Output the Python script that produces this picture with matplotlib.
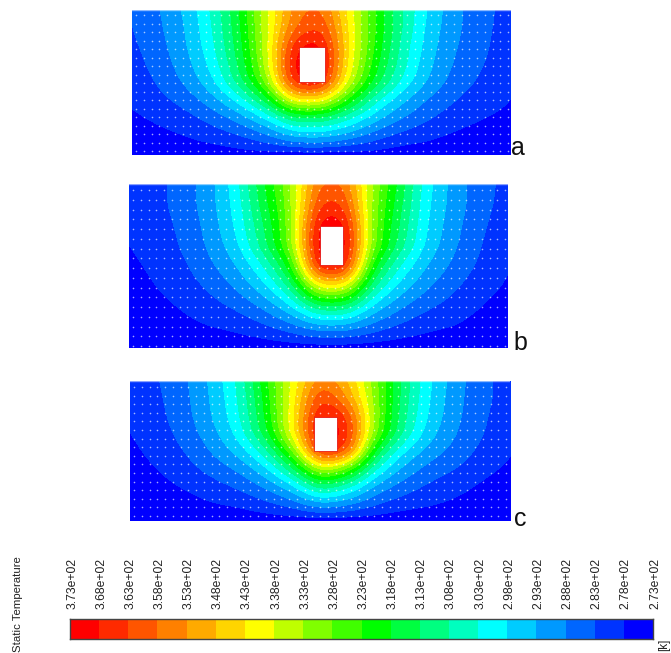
import numpy as np
import matplotlib
matplotlib.use("Agg")
import matplotlib.pyplot as plt
from matplotlib.colors import ListedColormap, BoundaryNorm
from matplotlib.patches import Rectangle
from matplotlib.transforms import ScaledTranslation

W, H = 671, 653
plt.rcParams['font.family'] = ['Liberation Sans', 'DejaVu Sans']

# Temperature readings (K), rows top to bottom, columns left to right
temp_a = [
    [283, 287.5, 294, 304, 318, 337, 356, 360, 342, 323, 308, 297, 289, 284.5, 281],
    [283, 287, 293, 303, 317, 337, 358, 364, 343, 323, 308, 296, 289, 284, 281],
    [282, 286, 292.5, 302, 316, 336, 368, 372, 343, 322, 306, 295, 288, 284, 280],
    [281, 285, 291, 300, 314, 335, 372, 374, 342, 320, 305, 294, 287, 283, 280],
    [280, 283.5, 289, 297, 311, 330, 370, 372, 338, 316, 302, 292, 285.5, 282, 279],
    [279, 281.5, 285, 291, 300, 315, 343, 343, 322, 304, 294, 287, 283, 280, 278],
    [277, 279, 281, 285, 290, 298, 311, 311, 304, 295, 288, 283.5, 280, 278, 277],
    [275, 276.5, 278, 280, 282.5, 287, 294, 295, 291, 285, 281, 279, 277, 276, 275],
    [273, 274, 275, 275, 276, 276, 276, 276, 276, 276, 275, 275, 274, 274, 273],
]
temp_b = [
    [280.5, 281.5, 285, 291, 301, 318, 332, 359, 359, 332, 317, 300, 291, 285, 281.5],
    [280, 281.5, 285, 291, 300, 316, 331, 364, 364, 331, 315, 299, 291, 285, 281],
    [279, 281, 284, 290, 299, 313, 330, 372, 372, 330, 313, 298, 290, 284, 280],
    [278, 280, 283.5, 289, 297, 311, 330, 374, 374, 330, 311, 297, 289, 283, 279.5],
    [277, 279, 282, 287, 293, 303, 320, 372, 372, 320, 303, 293, 287, 282, 278.5],
    [276, 278, 280.5, 284, 289, 296.5, 309, 342, 342, 309, 296.5, 289, 284, 280, 277.5],
    [275, 276.5, 278.5, 281, 284, 289, 297, 312, 312, 297, 289, 284, 281, 278, 276],
    [274, 275, 276.5, 278, 279, 282, 286, 291, 291, 286, 282, 279, 278, 276, 275],
    [273, 273.5, 274, 274.5, 275, 275, 275.5, 276, 276, 275.5, 275, 275, 274.5, 274, 273],
]
temp_c = [
    [280, 282.5, 287, 294, 304, 322, 340, 358, 349, 330, 312, 298.5, 290, 284, 281],
    [279.5, 282, 286.5, 293.5, 303, 320, 341, 365, 353, 331, 311, 298, 289.5, 284, 281],
    [279, 281.5, 286, 293, 302, 319, 342, 372, 365, 331, 310, 297, 289, 283.5, 280],
    [278, 280.5, 285, 291, 300, 316, 342, 374, 368, 330, 308, 295, 288, 283, 279.5],
    [277, 279.5, 283, 288.5, 295, 306, 328, 372, 364, 316, 298.5, 291, 286, 281.5, 278.5],
    [276, 278, 281, 285, 289, 297, 312, 338, 328, 303, 292, 286, 283, 279.5, 277],
    [275, 276.5, 278.5, 281, 284, 289, 297, 313, 305, 292, 286, 282, 280, 277, 275.5],
    [274, 275, 276, 278, 279, 282, 286, 293, 290, 284, 280.5, 279, 277, 275, 274],
    [273, 273.5, 274, 274, 274.5, 275, 275, 275.5, 275, 275, 274.5, 274, 274, 273.5, 273],
]
panel_names = ['a', 'b', 'c']
tick_labels = ['3.73e+02', '3.68e+02', '3.63e+02', '3.58e+02', '3.53e+02', '3.48e+02', '3.43e+02',
               '3.38e+02', '3.33e+02', '3.28e+02', '3.23e+02', '3.18e+02', '3.13e+02', '3.08e+02',
               '3.03e+02', '2.98e+02', '2.93e+02', '2.88e+02', '2.83e+02', '2.78e+02', '2.73e+02']
tick_values = [float(s) for s in tick_labels]
band_colors = ['#0000ff', '#0033ff', '#0066ff', '#0099ff', '#00ccff', '#00ffff', '#00ffbf', '#00ff80',
               '#00ff40', '#00ff00', '#40ff00', '#80ff00', '#bfff00', '#ffff00', '#ffd500', '#ffaa00',
               '#ff8000', '#ff5500', '#ff2a00', '#ff0000']

# layout in pixels: (left, top, right, bottom)
boxes = [(132, 10, 511, 155), (129, 184, 508, 348), (130, 381, 510, 521)]
holes = [(299, 47, 325, 82), (320, 226, 343, 265), (314, 417, 337, 451)]
dot_first_row = [15, 190, 387]
dot_row_step = [8.5, 9.75, 8.6]
dot_col_step = 7.75
name_pos = [(511, 155), (513, 350), (514, 526)]

levels = sorted(tick_values)
cmap = ListedColormap(band_colors)
norm = BoundaryNorm(levels, cmap.N, clip=True)

fig = plt.figure(figsize=(W / 100, H / 100), dpi=100, facecolor='white')


def px_axes(l, t, r, b):
    return fig.add_axes([l / W, 1 - b / H, (r - l) / W, (b - t) / H])


def smooth_axis(a, sigma, axis):
    # gaussian blur along one axis, with odd reflection so edge slopes survive
    rad = int(3 * sigma) + 1
    kern = np.exp(-0.5 * (np.arange(-rad, rad + 1) / sigma) ** 2)
    kern /= kern.sum()
    def one(v):
        p = np.pad(v, rad, mode='reflect', reflect_type='odd')
        return np.convolve(p, kern, mode='valid')
    return np.apply_along_axis(one, axis, a)


def fine_field(temp, l, t, r, b):
    # resample the readings to one value per pixel, then soften the facets
    arr = np.array(temp, dtype=float)
    xs = np.linspace(l, r, arr.shape[1])
    ys = np.linspace(t, b, arr.shape[0])
    fx = np.arange(l, r + 1.0)
    fy = np.arange(t, b + 1.0)
    f = np.array([np.interp(fx, xs, row) for row in arr])
    f = np.array([np.interp(fy, ys, col) for col in f.T]).T
    f = smooth_axis(f, 9.0, 1)
    f = smooth_axis(f, 7.0, 0)
    return f


for temp, box, hole, fr, rs, name, np_ in zip([temp_a, temp_b, temp_c], boxes, holes, dot_first_row,
                                              dot_row_step, panel_names, name_pos):
    l, t, r, b = box
    ax = px_axes(l, t, r, b)
    ax.imshow(fine_field(temp, l, t, r, b), cmap=cmap, norm=norm, aspect='auto', interpolation='bilinear',
              interpolation_stage='data', extent=(l - 0.5, r + 0.5, b + 0.5, t - 0.5))
    gx, gy = np.meshgrid(np.arange(l + 4, r, dot_col_step), np.arange(fr, b, rs))
    ax.scatter(gx.ravel(), gy.ravel(), s=1.4, c='white', alpha=0.65, linewidths=0, zorder=3)
    ax.add_patch(Rectangle((hole[0], hole[1]), hole[2] - hole[0], hole[3] - hole[1],
                           facecolor='white', edgecolor='#e00000', linewidth=0.5, zorder=4))
    ax.axhline(t + 0.4, color='white', alpha=0.55, lw=1, zorder=5)
    ax.set_xlim(l, r)
    ax.set_ylim(b, t)
    ax.axis('off')
    fig.text(np_[0] / W, 1 - np_[1] / H, name, fontsize=18, ha='left', va='baseline', color='#111111')

# colour bar
cax = px_axes(70, 619, 653, 639)
vals = np.array(tick_values)
mids = ((vals[:-1] + vals[1:]) / 2)[None, :]
cax.pcolormesh(vals, [0, 1], mids, cmap=cmap, norm=norm, shading='flat')
cax.set_xlim(373, 273)
cax.set_yticks([])
cax.xaxis.tick_top()
cax.set_xticks(tick_values, tick_labels, rotation=90, fontsize=8.7, color='#222222')
cax.tick_params(axis='x', length=0, pad=7)
for lab in cax.get_xticklabels():
    lab.set_transform(lab.get_transform() + ScaledTranslation(1.5 / 72, 0, fig.dpi_scale_trans))
for s in cax.spines.values():
    s.set_color('#444444')
    s.set_linewidth(1)

fig.text(18 / W, 1 - 604 / H, 'Static Temperature', rotation=90, fontsize=8.2, ha='center', va='center',
         color='#222222')
fig.text(664 / W, 1 - 645 / H, '[k]', rotation=90, fontsize=8.5, ha='center', va='center', color='#222222')

fig.savefig('out.png', dpi=100, facecolor='white')
